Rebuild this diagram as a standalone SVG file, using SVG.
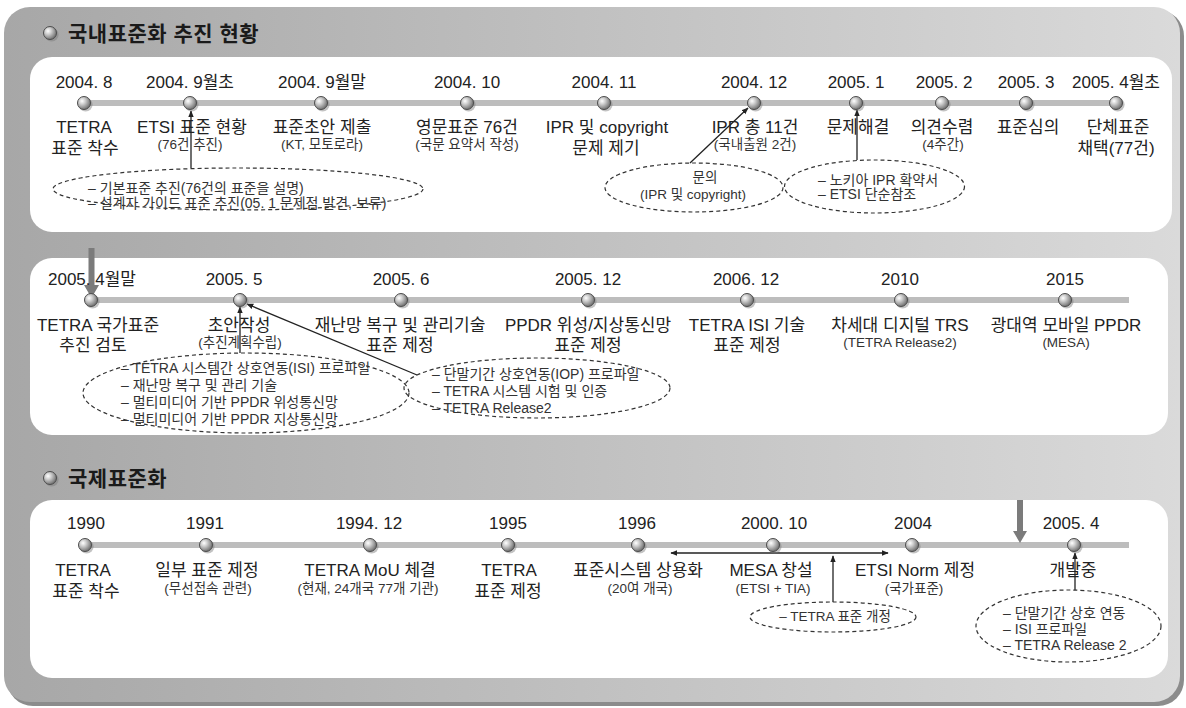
<svg xmlns="http://www.w3.org/2000/svg" xmlns:xlink="http://www.w3.org/1999/xlink" width="1186" height="708" viewBox="0 0 1186 708">
<style>
text{font-family:"Liberation Sans","Noto Sans CJK KR",sans-serif;fill:#222}
.h{font-size:21px;font-weight:bold;fill:#1a1a1a}
.d{font-size:17px;text-anchor:middle}
.l{font-size:17px;text-anchor:middle}
.s{font-size:13.5px;text-anchor:middle;fill:#333}
.e{font-size:14px;fill:#333}
.tl{stroke:#bdbdbd;stroke-width:6;fill:none}
.ov{fill:none;stroke:#333;stroke-width:1.2;stroke-dasharray:4 3}
.ar{stroke:#222;stroke-width:1.3;fill:none;marker-end:url(#ah)}
.ar2{stroke:#222;stroke-width:1.3;fill:none;marker-end:url(#ah);marker-start:url(#ahs)}
.big{fill:#7b7b7b}
</style>
<defs>
<linearGradient id="bg" x1="0" y1="0" x2="1" y2="0">
<stop offset="0" stop-color="#a7a7a7"/>
<stop offset="1" stop-color="#dadada"/>
</linearGradient>
<radialGradient id="sph" cx="0.35" cy="0.35" r="0.7">
<stop offset="0" stop-color="#ffffff"/>
<stop offset="0.35" stop-color="#cfcfcf"/>
<stop offset="1" stop-color="#6a6a6a"/>
</radialGradient>
<g id="ball">
<circle cx="1.6" cy="1.6" r="7" fill="#777" opacity="0.45"/>
<circle r="6.5" fill="url(#sph)" stroke="#4d4d4d" stroke-width="1"/>
</g>
<marker id="ah" viewBox="0 0 10 10" refX="9" refY="5" markerWidth="7" markerHeight="7" markerUnits="userSpaceOnUse" orient="auto">
<path d="M0,1 L10,5 L0,9 Z" fill="#222"/>
</marker>
<marker id="ahs" viewBox="0 0 10 10" refX="1" refY="5" markerWidth="7" markerHeight="7" markerUnits="userSpaceOnUse" orient="auto">
<path d="M10,1 L0,5 L10,9 Z" fill="#222"/>
</marker>
</defs>

<!-- background panel -->
<g id="background">
<rect x="7" y="10" width="1177" height="696" rx="26" fill="#8c8c8c"/>
<rect x="4" y="7" width="1176" height="695" rx="26" fill="url(#bg)"/>
<rect x="30" y="57" width="1142" height="175" rx="22" fill="#ffffff"/>
<rect x="30" y="258" width="1138" height="177" rx="22" fill="#ffffff"/>
<rect x="30" y="500" width="1138" height="178" rx="22" fill="#ffffff"/>
</g>

<g id="heading1">
<use href="#ball" x="50" y="33"/>
<text class="h" x="68" y="41" letter-spacing="0.5">국내표준화 추진 현황</text>
</g>
<g id="heading2">
<use href="#ball" x="50" y="478"/>
<text class="h" x="68" y="486" letter-spacing="0.5">국제표준화</text>
</g>

<!-- timelines and connectors -->
<g id="connectors">
<line class="tl" x1="84" y1="103" x2="1116" y2="103"/>
<line class="tl" x1="91" y1="300" x2="1129" y2="300"/>
<line class="tl" x1="85" y1="545" x2="1129" y2="545"/>
<line class="ar" x1="191" y1="168" x2="191" y2="111"/>
<line class="ar" x1="690" y1="163" x2="748" y2="108"/>
<line class="ar" x1="857" y1="160" x2="857" y2="110"/>
<line class="ar" x1="240" y1="353" x2="240" y2="307"/>
<line class="ar" x1="417" y1="375" x2="247" y2="304"/>
<line class="ar2" x1="671" y1="553" x2="888" y2="553"/>
<line class="ar" x1="833" y1="602" x2="833" y2="556"/>
<line class="ar" x1="1075" y1="590" x2="1075" y2="553"/>
<polygon class="big" points="88.5,248 94.5,248 94.5,285 99,285 91.5,298 84,285 88.5,285"/>
<polygon class="big" points="1017,500 1023,500 1023,531 1027,531 1020,543 1013,531 1017,531"/>
</g>

<!-- Row 1 -->
<g id="n2004-08"><use href="#ball" x="84" y="103"/><text class="d" x="84" y="88">2004. 8</text><text class="l" x="84" y="133">TETRA</text><text class="l" x="85" y="154">표준 착수</text></g>
<g id="n2004-09a"><use href="#ball" x="190" y="103"/><text class="d" x="190" y="88">2004. 9월초</text><text class="l" x="192" y="133">ETSI 표준 현황</text><text class="s" x="190" y="149">(76건 추진)</text></g>
<g id="n2004-09b"><use href="#ball" x="321" y="103"/><text class="d" x="322" y="88">2004. 9월말</text><text class="l" x="322" y="133">표준초안 제출</text><text class="s" x="322" y="149">(KT, 모토로라)</text></g>
<g id="n2004-10"><use href="#ball" x="467" y="103"/><text class="d" x="467" y="88">2004. 10</text><text class="l" x="467" y="133">영문표준 76건</text><text class="s" x="467" y="149">(국문 요약서 작성)</text></g>
<g id="n2004-11"><use href="#ball" x="604" y="103"/><text class="d" x="604" y="88">2004. 11</text><text class="l" x="607" y="133">IPR 및 copyright</text><text class="l" x="606" y="154">문제 제기</text></g>
<g id="n2004-12"><use href="#ball" x="754" y="103"/><text class="d" x="754" y="88">2004. 12</text><text class="l" x="755" y="133">IPR 총 11건</text><text class="s" x="755" y="149">(국내출원 2건)</text></g>
<g id="n2005-01"><use href="#ball" x="856" y="103"/><text class="d" x="856" y="88">2005. 1</text><text class="l" x="858" y="133">문제해결</text></g>
<g id="n2005-02"><use href="#ball" x="942" y="103"/><text class="d" x="944" y="88">2005. 2</text><text class="l" x="942" y="133">의견수렴</text><text class="s" x="943" y="149">(4주간)</text></g>
<g id="n2005-03"><use href="#ball" x="1026" y="103"/><text class="d" x="1026" y="88">2005. 3</text><text class="l" x="1028" y="133">표준심의</text></g>
<g id="n2005-04a"><use href="#ball" x="1116" y="103"/><text class="d" x="1116" y="88">2005. 4월초</text><text class="l" x="1118" y="133">단체표준</text><text class="l" x="1116" y="154">채택(77건)</text></g>

<g id="noteA"><ellipse class="ov" cx="238" cy="189" rx="185" ry="21"/><text class="e" x="88" y="193">– 기본표준 추진(76건의 표준을 설명)</text><text class="e" x="88" y="208">– 설계자 가이드 표준 추진(05. 1 문제점 발견, 보류)</text></g>
<g id="noteB"><ellipse class="ov" cx="694" cy="187.5" rx="89" ry="24.5"/><text class="s" x="705" y="182">문의</text><text class="s" x="693" y="199">(IPR 및 copyright)</text></g>
<g id="noteC"><ellipse class="ov" cx="874.5" cy="186.5" rx="90" ry="26.5"/><text class="e" x="818" y="185">– 노키아 IPR 확약서</text><text class="e" x="818" y="199">– ETSI 단순참조</text></g>

<!-- Row 2 -->
<g id="n2005-04b"><use href="#ball" x="91" y="300"/><text class="d" x="92" y="285">2005. 4월말</text><text class="l" x="98" y="331">TETRA 국가표준</text><text class="l" x="93" y="351">추진 검토</text></g>
<g id="n2005-05"><use href="#ball" x="240" y="300"/><text class="d" x="234" y="285">2005. 5</text><text class="l" x="239" y="331">초안작성</text><text class="s" x="240" y="347">(추진계획수립)</text></g>
<g id="n2005-06"><use href="#ball" x="401" y="300"/><text class="d" x="401" y="285">2005. 6</text><text class="l" x="400" y="331">재난망 복구 및 관리기술</text><text class="l" x="400" y="351">표준 제정</text></g>
<g id="n2005-12"><use href="#ball" x="588" y="300"/><text class="d" x="588" y="285">2005. 12</text><text class="l" x="588" y="331">PPDR 위성/지상통신망</text><text class="l" x="588" y="351">표준 제정</text></g>
<g id="n2006-12"><use href="#ball" x="747" y="300"/><text class="d" x="746" y="285">2006. 12</text><text class="l" x="747" y="331">TETRA ISI 기술</text><text class="l" x="747" y="351">표준 제정</text></g>
<g id="n2010"><use href="#ball" x="901" y="300"/><text class="d" x="900" y="285">2010</text><text class="l" x="900" y="331">차세대 디지털 TRS</text><text class="s" x="900" y="347">(TETRA Release2)</text></g>
<g id="n2015"><use href="#ball" x="1065" y="300"/><text class="d" x="1065" y="285">2015</text><text class="l" x="1066" y="331">광대역 모바일 PPDR</text><text class="s" x="1066" y="347">(MESA)</text></g>

<g id="noteD"><ellipse class="ov" cx="246" cy="393" rx="163" ry="40"/><text class="e" x="121" y="373">– TETRA 시스템간 상호연동(ISI) 프로파일</text><text class="e" x="121" y="390">– 재난망 복구 및 관리 기술</text><text class="e" x="121" y="407">– 멀티미디어 기반 PPDR 위성통신망</text><text class="e" x="121" y="424">– 멀티미디어 기반 PPDR 지상통신망</text></g>
<g id="noteE"><ellipse class="ov" cx="537" cy="388" rx="133" ry="30"/><text class="e" x="432" y="379">– 단말기간 상호연동(IOP) 프로파일</text><text class="e" x="432" y="396">– TETRA 시스템 시험 및 인증</text><text class="e" x="432" y="413">– TETRA Release2</text></g>

<!-- Row 3 -->
<g id="n1990"><use href="#ball" x="85" y="545"/><text class="d" x="86" y="529">1990</text><text class="l" x="83" y="576">TETRA</text><text class="l" x="86" y="597">표준 착수</text></g>
<g id="n1991"><use href="#ball" x="206" y="545"/><text class="d" x="205" y="529">1991</text><text class="l" x="207" y="576">일부 표준 제정</text><text class="s" x="208" y="593">(무선접속 관련)</text></g>
<g id="n1994"><use href="#ball" x="370" y="545"/><text class="d" x="369" y="529">1994. 12</text><text class="l" x="370" y="576">TETRA MoU 체결</text><text class="s" x="368" y="593">(현재, 24개국 77개 기관)</text></g>
<g id="n1995"><use href="#ball" x="508" y="545"/><text class="d" x="508" y="529">1995</text><text class="l" x="509" y="576">TETRA</text><text class="l" x="508" y="597">표준 제정</text></g>
<g id="n1996"><use href="#ball" x="638" y="545"/><text class="d" x="637" y="529">1996</text><text class="l" x="638" y="576">표준시스템 상용화</text><text class="s" x="640" y="593">(20여 개국)</text></g>
<g id="n2000"><use href="#ball" x="773" y="545"/><text class="d" x="774" y="529">2000. 10</text><text class="l" x="771" y="576">MESA 창설</text><text class="s" x="773" y="593">(ETSI + TIA)</text></g>
<g id="n2004"><use href="#ball" x="912" y="545"/><text class="d" x="913" y="529">2004</text><text class="l" x="915" y="576">ETSI Norm 제정</text><text class="s" x="914" y="593">(국가표준)</text></g>
<g id="n2005-04c"><use href="#ball" x="1074" y="545"/><text class="d" x="1071" y="529">2005. 4</text><text class="l" x="1073" y="576">개발중</text></g>

<g id="noteF"><ellipse class="ov" cx="833" cy="617" rx="83" ry="15"/><text class="s" x="835" y="621">– TETRA 표준 개정</text></g>
<g id="noteG"><ellipse class="ov" cx="1068.5" cy="626" rx="92.5" ry="36"/><text class="e" x="1003" y="618">– 단말기간 상호 연동</text><text class="e" x="1003" y="634">– ISI 프로파일</text><text class="e" x="1003" y="650">– TETRA Release 2</text></g>
</svg>
